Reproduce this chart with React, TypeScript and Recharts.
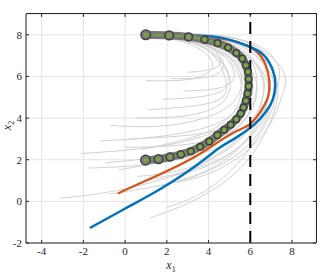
import React from 'react';
import { LineChart, Line, XAxis, YAxis, CartesianGrid, ReferenceLine } from 'recharts';

const xTicks = [-4, -2, 0, 2, 4, 6, 8];
const yTicks = [-2, 0, 2, 4, 6, 8];
const xDomain = [-4.75, 9.15];
const yDomain = [-2, 9];

// reference trajectory (circles)
const refX1 = [0.99, 2.11, 3.04, 3.81, 4.43, 4.94, 5.33, 5.62, 5.79, 5.89, 5.92, 5.92, 5.87, 5.79, 5.68, 5.54, 5.33, 5.06, 4.75, 4.42, 4.03, 3.6, 3.15, 2.67, 2.15, 1.6, 0.98];
const refX2 = [8, 7.97, 7.9, 7.77, 7.6, 7.39, 7.13, 6.86, 6.54, 6.22, 5.88, 5.53, 5.18, 4.83, 4.51, 4.22, 3.94, 3.68, 3.44, 3.18, 2.88, 2.62, 2.41, 2.26, 2.13, 2.03, 1.98];

// orange estimate
const orangeX1 = [1.0, 2.2, 3.4, 4.6, 5.47, 6.27, 6.72, 6.91, 6.84, 6.51, 6.03, 5.4, 4.51, 3.24, 1.63, 0.03, -0.34];
const orangeX2 = [8.0, 8.0, 7.95, 7.82, 7.63, 7.23, 6.59, 5.79, 4.99, 4.35, 3.75, 3.4, 2.88, 2.08, 1.28, 0.56, 0.37];

// blue estimate
const blueX1 = [1.0, 2.2, 3.5, 4.7, 5.79, 6.6, 7.08, 7.2, 7.08, 6.75, 6.2, 5.3, 4.51, 3.24, 1.63, 0.03, -1.69];
const blueX2 = [8.0, 8.0, 7.97, 7.84, 7.5, 7.07, 6.3, 5.6, 4.9, 4.3, 3.7, 3.05, 2.56, 1.6, 0.56, -0.33, -1.28];

// grey sampled runs, [x1, x2] pairs
const sampleRuns = [
  [[1.5, 8.0], [4.5, 7.7], [6.3, 6.5], [6.6, 5.0], [5.8, 3.3], [3.5, 1.7], [0, 0.6], [-3.1, 0.15]],
  [[1.2, 8.0], [4.2, 7.6], [5.9, 6.2], [6.0, 4.8], [4.8, 3.6], [2.0, 2.7], [-2.1, 2.3]],
  [[1.8, 8.0], [4.6, 7.7], [6.6, 6.2], [6.7, 4.6], [5.3, 3.0], [2.0, 1.9], [-1.75, 1.6]],
  [[1.3, 8.0], [4.0, 7.6], [5.6, 6.3], [5.9, 4.9], [4.9, 3.3], [2.5, 2.3], [-0.95, 1.85]],
  [[2.0, 8.0], [5.0, 7.7], [6.9, 6.3], [7.0, 4.6], [5.8, 2.6], [3.0, 1.1], [-0.75, 0.35]],
  [[1.0, 8.0], [3.8, 7.5], [5.4, 6.2], [5.3, 4.9], [3.8, 4.0], [1.5, 3.6], [-0.7, 3.65]],
  [[1.4, 8.0], [4.2, 7.6], [5.8, 6.1], [5.8, 4.6], [4.3, 3.4], [0.2, 3.0]],
  [[1.1, 8.0], [3.8, 7.4], [5.0, 6.0], [4.6, 4.7], [2.8, 4.1], [0.5, 4.0]],
  [[1.6, 8.0], [3.9, 7.3], [4.8, 5.9], [4.3, 4.8], [1.1, 4.4]],
  [[1.2, 8.0], [3.2, 7.5], [4.2, 6.6], [3.3, 5.9], [1.0, 5.8]],
  [[1.5, 8.0], [3.6, 7.6], [4.7, 6.7], [4.1, 6.0], [2.2, 5.9]],
  [[2.5, 8.0], [5.5, 7.6], [7.2, 6.0], [7.1, 4.2], [6.2, 2.4], [4.8, 0.96], [3.0, -0.1], [1.2, -0.8]],
  [[2.2, 8.0], [5.3, 7.7], [7.1, 6.2], [7.0, 4.3], [5.8, 2.3], [4.0, 0.6], [2.0, -0.3]],
  [[1.9, 8.0], [5.0, 7.7], [6.8, 6.3], [6.7, 4.5], [5.4, 2.5], [3.5, 1.3], [1.5, 0.7]],
  [[1.3, 8.0], [4.4, 7.6], [6.1, 6.2], [6.2, 4.7], [5.0, 3.3], [2.6, 2.7], [0.0, 2.6]],
  [[1.7, 8.0], [4.8, 7.7], [6.5, 6.3], [6.5, 4.7], [5.3, 2.9], [3.0, 1.6], [0.6, 1.2]],
  [[1.1, 8.0], [4.0, 7.5], [5.6, 6.1], [5.6, 4.8], [4.3, 3.7], [1.5, 3.1], [-1.2, 2.9]],
  [[1.4, 8.0], [3.7, 7.4], [4.9, 6.2], [4.4, 5.2], [1.8, 4.9]],
  [[1.3, 8.0], [3.5, 7.7], [4.5, 7.0], [4.3, 6.4], [3.0, 6.2]],
  [[1.6, 8.0], [4.0, 7.5], [5.2, 6.3], [4.7, 5.5], [2.8, 5.3]],
  [[2.3, 8.0], [5.4, 7.8], [7.5, 6.4], [7.5, 5.0], [6.6, 3.2], [4.6, 1.6], [2.5, 0.9]],
  [[2.8, 8.0], [5.8, 7.7], [7.3, 6.6], [7.2, 5.2], [6.2, 3.3], [4.0, 1.8], [1.0, 1.0]],
  [[1.0, 8.0], [3.5, 7.6], [5.0, 6.9], [5.6, 5.8], [5.2, 4.3], [3.6, 3.2], [0.8, 2.5]],
  [[1.8, 8.0], [4.5, 7.7], [6.0, 6.8], [6.3, 5.4], [5.6, 3.8], [3.4, 2.4], [-0.3, 1.5]],
  [[2.0, 8.0], [4.8, 7.8], [6.4, 7.0], [6.9, 5.6], [6.4, 3.7], [4.6, 2.0], [2.2, 1.2]],
];

const toPts = (xs: number[], ys: number[]) => xs.map((x, i) => ({ x, y: ys[i] }));

const refPts = toPts(refX1, refX2);
const orangePts = toPts(orangeX1, orangeX2);
const bluePts = toPts(blueX1, blueX2);
const runPts = sampleRuns.map(run => run.map(([x, y]) => ({ x, y })));

const serif = 'Liberation Serif';
const axisColor = '#262626';
const tickLen = 0.14; // inner tick length in data units (~3px)

const W = 331;
const H = 276;
const margin = { top: 14, right: 15, bottom: 0, left: 0 };
const yAxisW = 26;
const xAxisH = 33;

function XTick({ x, y, payload }: any) {
  return (
    <text x={x} y={y} dy={8} textAnchor="middle" fontFamily={serif} fontSize={11} fill={axisColor}>
      {payload.value}
    </text>
  );
}

function YTick({ x, y, payload }: any) {
  return (
    <text x={x} y={y} dy={4} textAnchor="end" fontFamily={serif} fontSize={11} fill={axisColor}>
      {payload.value}
    </text>
  );
}

function CircleDot(props: any) {
  const { cx, cy, index } = props;
  const n = refPts.length;
  const k = Math.min(index, n - 1 - index);
  const r = Math.max(3.3, 4.8 - 0.4 * k);
  return <circle key={`c${index}`} cx={cx} cy={cy} r={r} fill="#7d7d7d" stroke="#3f3f3f" strokeWidth={1.5} />;
}

export default function App() {
  return (
    <div style={{ position: 'absolute', left: 0, top: 0, width: W, height: H, background: '#fff' }}>
      <LineChart width={W} height={H} margin={margin}>
        <CartesianGrid stroke="#e4e4e4" strokeWidth={1} />
        <XAxis
          type="number"
          dataKey="x"
          domain={xDomain}
          ticks={xTicks}
          allowDataOverflow
          height={xAxisH}
          tickSize={-3}
          tickMargin={7}
          stroke={axisColor}
          tick={<XTick />}
          label={({ viewBox }: any) => (
            <text x={viewBox.x + viewBox.width / 2} y={viewBox.y + 26} textAnchor="middle" fontFamily={serif} fontSize={12} fill={axisColor}>
              <tspan fontStyle="italic">x</tspan>
              <tspan fontSize={8} dy={3}>1</tspan>
            </text>
          )}
        />
        <YAxis
          type="number"
          domain={yDomain}
          ticks={yTicks}
          allowDataOverflow
          width={yAxisW}
          tickSize={-3}
          tickMargin={7}
          stroke={axisColor}
          tick={<YTick />}
          label={({ viewBox }: any) => {
            const cx = 11;
            const cy = viewBox.y + viewBox.height / 2 - 3;
            return (
              <text x={cx} y={cy} transform={`rotate(-90, ${cx}, ${cy})`} textAnchor="middle" fontFamily={serif} fontSize={12} fill={axisColor}>
                <tspan fontStyle="italic">x</tspan>
                <tspan fontSize={8} dy={3}>2</tspan>
              </text>
            );
          }}
        />

        {runPts.map((pts, i) => (
          <Line
            key={`run${i}`}
            data={pts}
            dataKey="y"
            type="natural"
            stroke="#d2d2d2"
            strokeWidth={1}
            dot={false}
            activeDot={false}
            isAnimationActive={false}
          />
        ))}

        <Line data={orangePts} dataKey="y" type="natural" stroke="#D95319" strokeWidth={2.3} dot={false} activeDot={false} isAnimationActive={false} />
        <Line data={bluePts} dataKey="y" type="natural" stroke="#0072BD" strokeWidth={2.5} dot={false} activeDot={false} isAnimationActive={false} />

        <Line data={refPts} dataKey="y" type="natural" stroke="#777777" strokeWidth={8} strokeLinecap="round" dot={false} activeDot={false} isAnimationActive={false} />
        <Line data={refPts} dataKey="y" type="natural" stroke="none" dot={<CircleDot />} activeDot={false} isAnimationActive={false} />
        <Line
          data={refPts}
          dataKey="y"
          type="natural"
          stroke="#77AC30"
          strokeWidth={1.6}
          dot={{ r: 2, fill: '#77AC30', stroke: 'none' }}
          activeDot={false}
          isAnimationActive={false}
        />

        <ReferenceLine x={6} stroke="#000" strokeWidth={2} strokeDasharray="12 7" />

        {/* inward ticks on top and right edges */}
        {xTicks.map(t => (
          <ReferenceLine key={`tt${t}`} segment={[{ x: t, y: yDomain[1] }, { x: t, y: yDomain[1] - tickLen }]} stroke={axisColor} />
        ))}
        {yTicks.map(t => (
          <ReferenceLine key={`rt${t}`} segment={[{ x: xDomain[1], y: t }, { x: xDomain[1] - tickLen, y: t }]} stroke={axisColor} />
        ))}
      </LineChart>
      {/* top and right sides of the axes box */}
      <div
        style={{
          position: 'absolute',
          left: margin.left + yAxisW,
          top: margin.top - 1,
          width: W - margin.left - yAxisW - margin.right + 1,
          height: H - margin.top - xAxisH + 1,
          borderTop: `1px solid ${axisColor}`,
          borderRight: `1px solid ${axisColor}`,
          boxSizing: 'border-box',
          pointerEvents: 'none',
        }}
      />
    </div>
  );
}
